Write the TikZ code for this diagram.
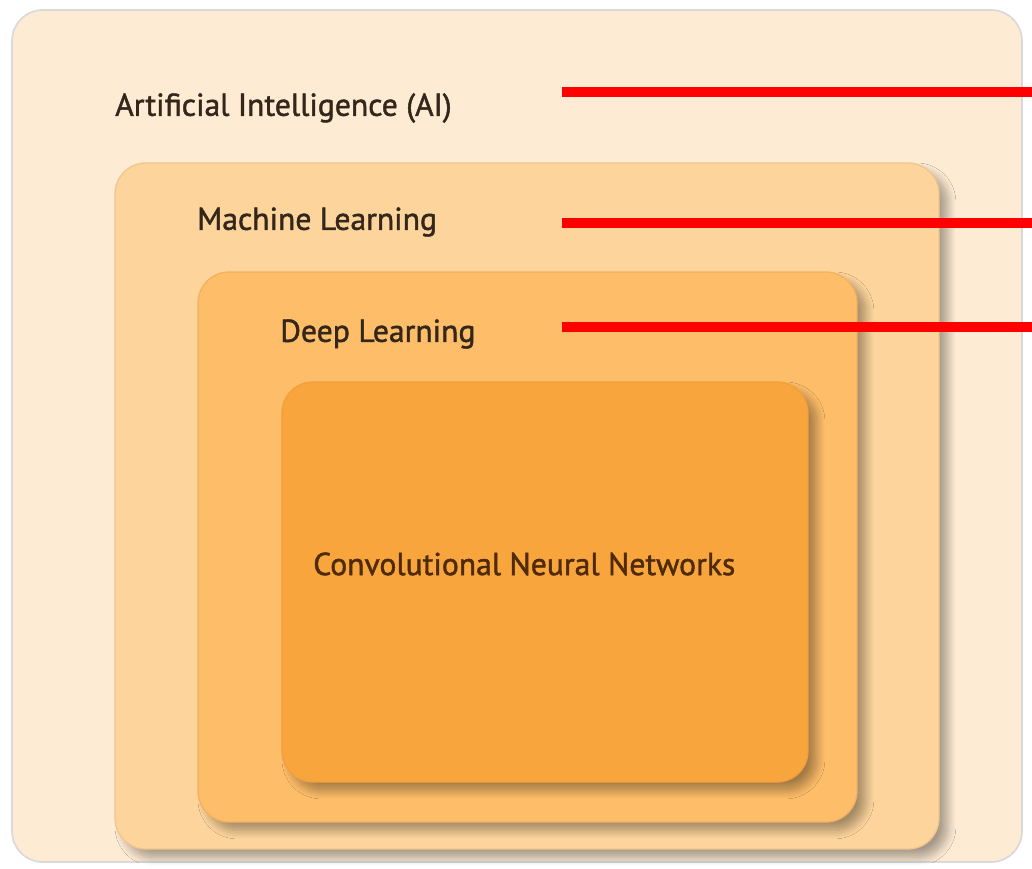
\documentclass[tikz,border=0pt]{standalone}
\usepackage{fontspec}
\setmainfont{PT Sans}
\usetikzlibrary{shadows.blur}

\definecolor{aiFill}{HTML}{FEEBD4}
\definecolor{mlFill}{HTML}{FDD59C}
\definecolor{dlFill}{HTML}{FDBD69}
\definecolor{cnnFill}{HTML}{F9A53D}
\definecolor{labelText}{HTML}{33261A}
\definecolor{cnnText}{HTML}{4F2A06}

\tikzset{
  layer/.style={rounded corners=22, line width=0.9pt,
    blur shadow={shadow xshift=6pt, shadow yshift=-6pt, shadow blur radius=6pt,
      shadow blur steps=12, shadow opacity=35}},
  layername/.style={anchor=west, inner sep=0pt, text=labelText,
    font=\fontsize{22.5}{26}\selectfont\addfontfeature{FakeBold=1.4}},
  pointer/.style={line width=7pt, red}
}

\begin{document}
\begin{tikzpicture}[x=0.025cm, y=-0.025cm]
			%%%%% START %%%%%
			\useasboundingbox (0, 0) rectangle (1032, 868);
			
			% nested boxes, outermost first
			\draw[rounded corners=22, line width=1.2pt, fill=aiFill, draw=black!15] (12, 10) rectangle (1022, 862);
			\draw[layer, fill=mlFill, draw=mlFill!80!brown] (115, 163) rectangle (939, 849);
			\draw[layer, fill=dlFill, draw=dlFill!80!brown] (198, 272) rectangle (857, 822);
			\draw[layer, fill=cnnFill, draw=cnnFill!85!brown] (282, 382) rectangle (808, 782);
			
			\node[layername] (ai) at (115, 108) {Artificial Intelligence (AI)};
			\node[layername] (ml) at (197, 222) {Machine Learning};
			\node[layername] (dl) at (280, 334) {Deep Learning};
			\node[layername, text=cnnText] (cnn) at (313, 564) {Convolutional Neural Networks};
			
			% red markers out to the right edge
			\draw[pointer] (562, 92) -- (1032, 92);
			\draw[pointer] (562, 223) -- (1032, 223);
			\draw[pointer] (562, 327) -- (1032, 327);
			
			%%%%% END %%%%%
		\end{tikzpicture}
\end{document}
